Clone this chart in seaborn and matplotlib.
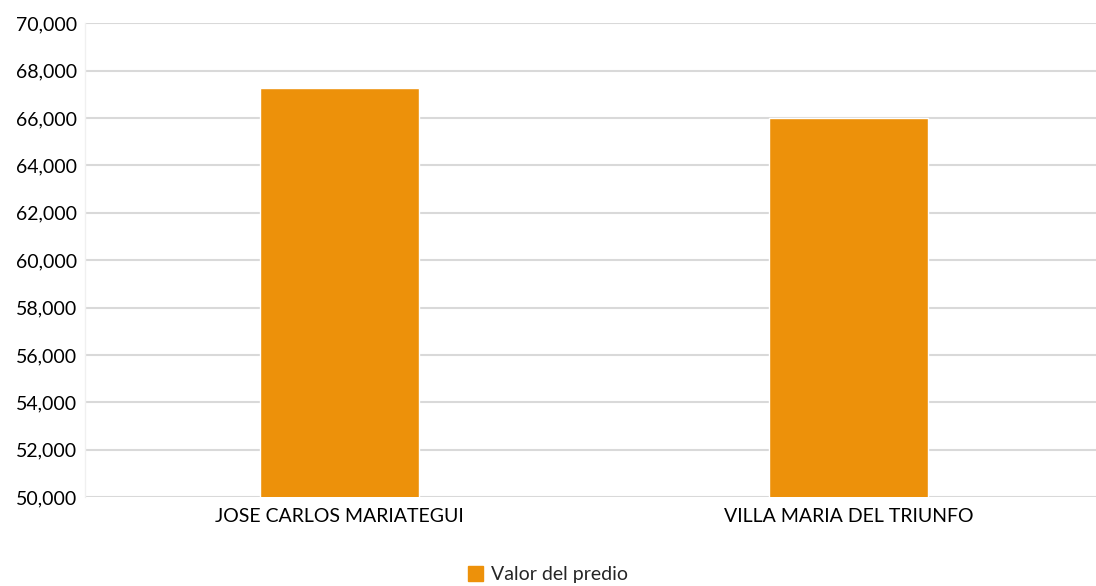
import matplotlib
matplotlib.use("Agg")
import matplotlib.pyplot as plt
import matplotlib.ticker as mticker
import pandas as pd
import seaborn as sns

# data
distritos = ["JOSE CARLOS MARIATEGUI", "VILLA MARIA DEL TRIUNFO"]
valor_predio = [67280, 66000]
serie = "Valor del predio"

df = pd.DataFrame({"Distrito": distritos, "Valor": valor_predio, "Serie": serie})

sns.set_style("white")
plt.rcParams["font.family"] = ["Lato", "DejaVu Sans"]

fig = plt.figure(figsize=(10.96, 5.86), dpi=100)
ax = fig.add_axes([0.0776, 0.1515, 0.929, 0.809])

sns.barplot(data=df, x="Distrito", y="Valor", hue="Serie", palette=["#ED910A"],
            width=0.312, ax=ax, legend=False, saturation=1)

ax.set_ylim(50000, 70000)
ax.set_xlim(-0.5, 1.5)
ax.yaxis.set_major_locator(mticker.MultipleLocator(2000))
ax.yaxis.set_major_formatter(mticker.FuncFormatter(lambda v, p: f"{v:,.0f}"))
ax.grid(axis="y", color="#D9D9D9", linewidth=1.5)
ax.set_axisbelow(True)
for s in ["top", "right", "bottom"]:
    ax.spines[s].set_visible(False)
ax.spines["left"].set_color("#F0F0F0")
ax.spines["left"].set_linewidth(1)
ax.tick_params(axis="both", length=0, labelsize=14, colors="#000000")
ax.tick_params(axis="y", pad=6)
ax.tick_params(axis="x", pad=8)
ax.set_xlabel("")
ax.set_ylabel("")

handle = plt.Rectangle((0, 0), 1, 1, color="#ED910A")
fig.legend([handle], [serie], loc="center", bbox_to_anchor=(0.5, 0.02),
           frameon=False, fontsize=14, handlelength=0.8, handleheight=0.8,
           handletextpad=0.4)

fig.savefig("out.png", dpi=100)
